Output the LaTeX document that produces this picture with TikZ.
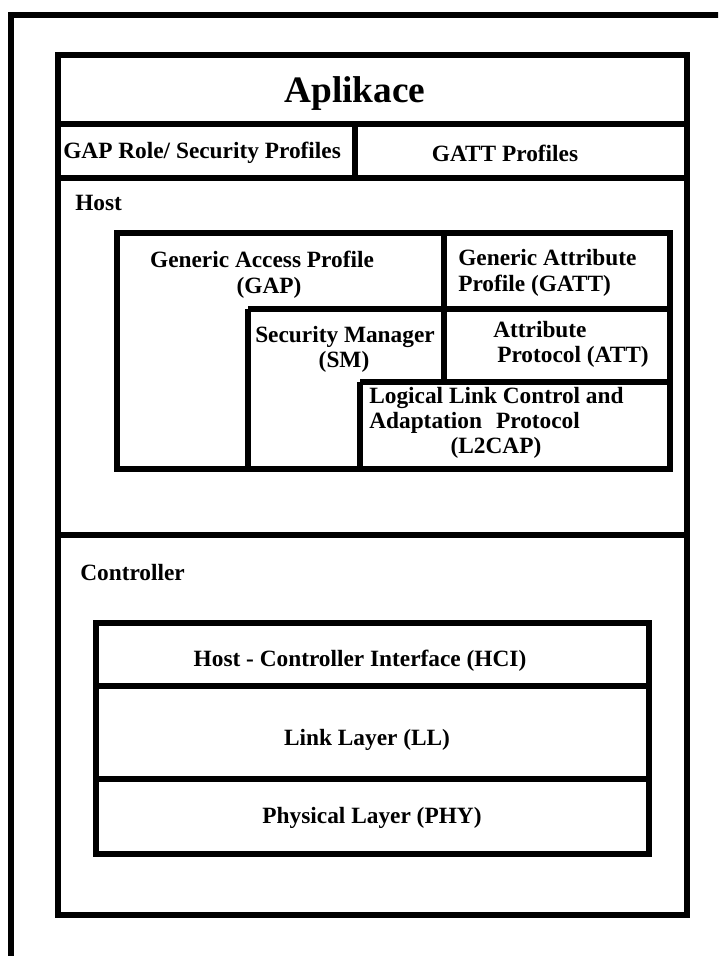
\documentclass[tikz,border=0pt]{standalone}
\usepackage{fontspec}
\setmainfont{Liberation Serif}
\begin{document}
\begin{tikzpicture}[x=0.75pt,y=-0.75pt,
  frame/.style={draw=black,line width=4.5pt,line join=miter},
  label/.style={font=\bfseries\fontsize{17.5}{19}\selectfont,inner sep=0pt,text=black,anchor=base},
  leftlabel/.style={label,anchor=base west},
  title/.style={font=\bfseries\fontsize{28}{32}\selectfont,inner sep=0pt,text=black,anchor=base}]
\useasboundingbox (0,0) rectangle (718,956);
\begin{scope}
\clip (0,0) rectangle (718,956);
% outer frame (runs past the page edge on the right and at the bottom)
\draw[frame] (11,1000) -- (11,15) -- (760,15);
% main stack
\draw[frame] (58,55) rectangle (687,915);
\draw[frame] (58,124) -- (687,124);
\draw[frame] (58,178) -- (687,178);
\draw[frame] (355,124) -- (355,178);
\draw[frame] (58,535) -- (687,535);
% host blocks
\draw[frame] (117,233) rectangle (670,469);
\draw[frame] (444,233) -- (444,382);
\draw[frame] (248,309) -- (670,309);
\draw[frame] (248,309) -- (248,469);
\draw[frame] (360,382) -- (670,382);
\draw[frame] (360,382) -- (360,469);
% controller blocks
\draw[frame] (96,623) rectangle (649,854);
\draw[frame] (96,686) -- (649,686);
\draw[frame] (96,779) -- (649,779);
\end{scope}
% labels
\node[title] (app) at (355,103) {Aplikace};
\node[leftlabel] (gaprole) at (63,158) {GAP Role/ Security Profiles};
\node[label] (gattp) at (505,161) {GATT Profiles};
\node[leftlabel] (host) at (75,210) {Host};
\node[label] (gapa) at (262,267) {Generic Access Profile};
\node[label] (gapb) at (269,293) {(GAP)};
\node[leftlabel] (gatta) at (458,265) {Generic Attribute};
\node[leftlabel] (gattb) at (458,291) {Profile (GATT)};
\node[label] (sma) at (345,342) {Security Manager};
\node[label] (smb) at (344,367) {(SM)};
\node[leftlabel] (atta) at (493,337) {Attribute};
\node[leftlabel] (attb) at (497,362) {Protocol (ATT)};
\node[leftlabel] (l2a) at (369,403) {Logical Link Control and};
\node[leftlabel] (l2b) at (369,428) {Adaptation\hspace{0.6em}Protocol};
\node[label] (l2c) at (496,453) {(L2CAP)};
\node[leftlabel] (ctrl) at (80,580) {Controller};
\node[label] (hci) at (360,666) {Host - Controller Interface (HCI)};
\node[label] (ll) at (367,745) {Link Layer (LL)};
\node[label] (phy) at (372,823) {Physical Layer (PHY)};
\end{tikzpicture}
\end{document}
